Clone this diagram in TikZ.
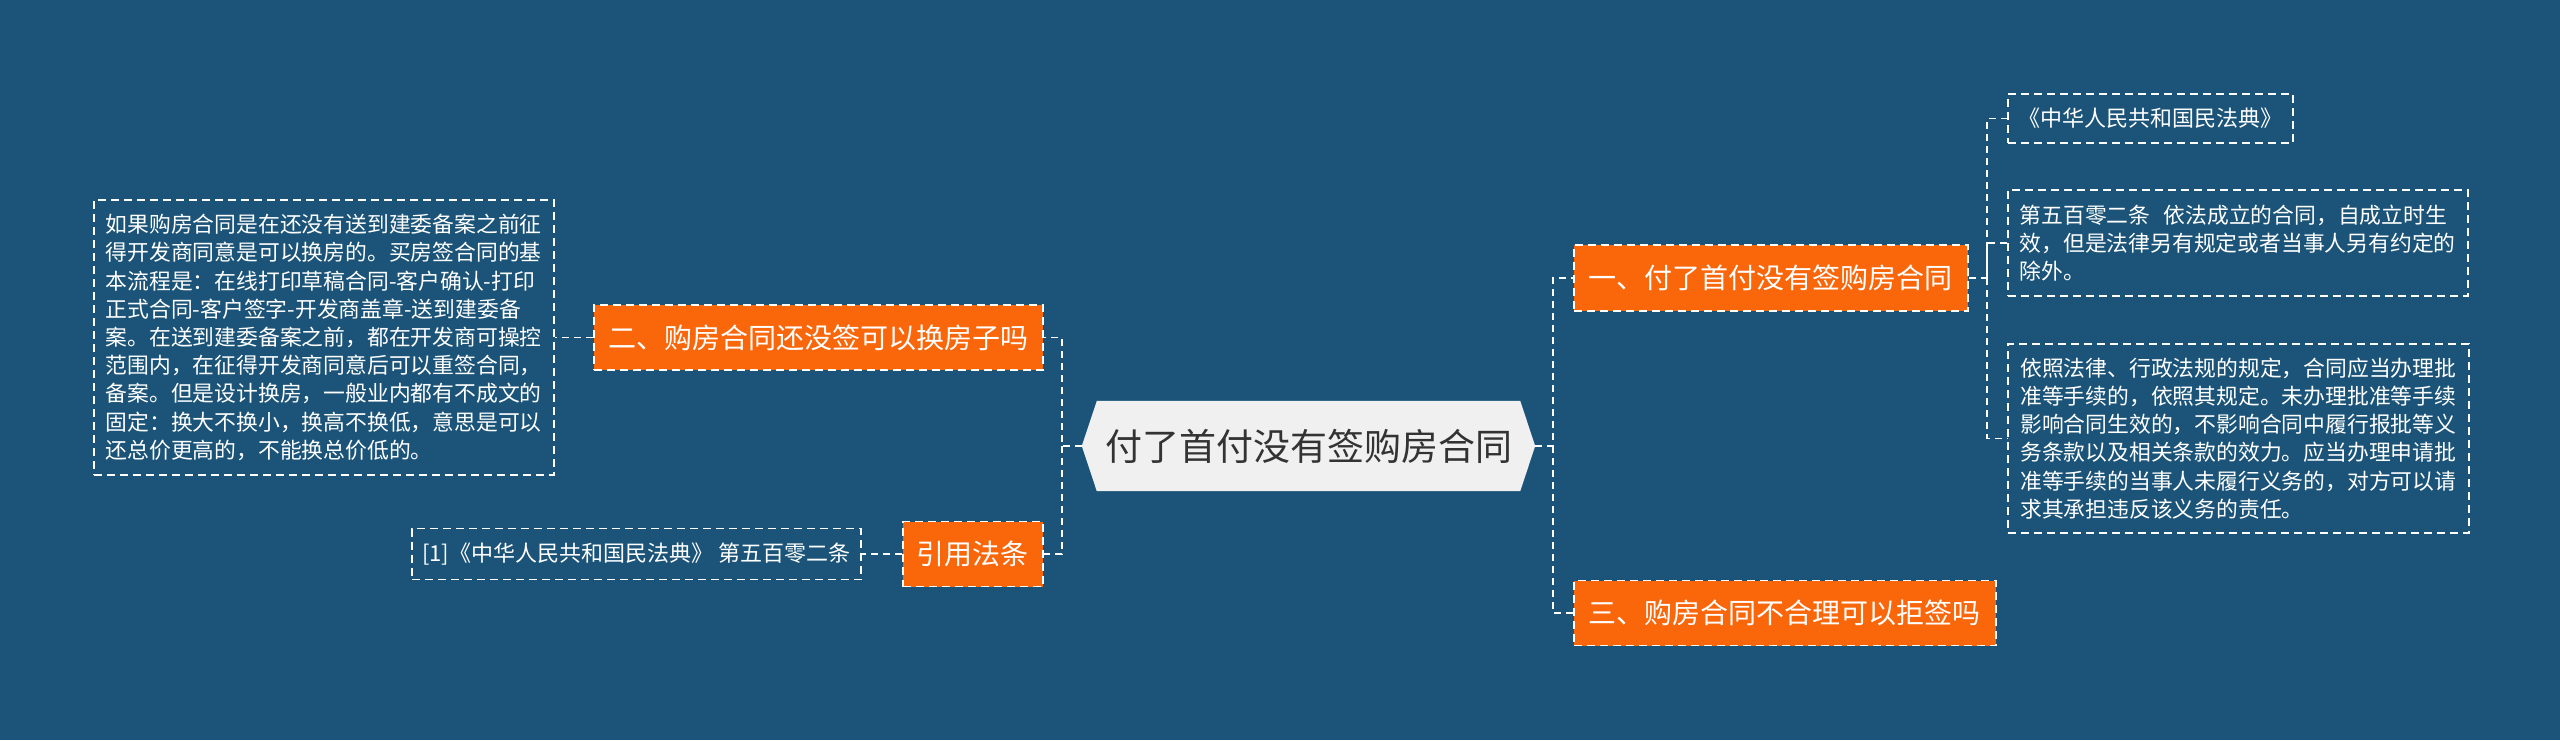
\documentclass[tikz,border=0pt]{standalone}
\usepackage{fontspec}
\setmainfont{Noto Sans CJK SC}
\usepackage{tikz}
\usetikzlibrary{calc}
\definecolor{mapblue}{RGB}{27, 84, 120}
\definecolor{branchorange}{RGB}{250, 102, 10}
\definecolor{rootfill}{RGB}{240, 240, 240}
\definecolor{rootink}{RGB}{51, 51, 51}

\begin{document}
\begin{tikzpicture}[x=1pt, y=-1pt,
  link/.style={draw=white, line width=1.8pt, dash pattern=on 7pt off 5pt},
  branch/.style={draw=white, line width=1.5pt, dash pattern=on 8pt off 5pt, fill=branchorange,
    text=white, anchor=west, inner sep=0pt, font=\fontsize{28}{34}\selectfont},
  leaf/.style={draw=white, line width=1.5pt, dash pattern=on 8pt off 5pt, text=white,
    anchor=west, inner sep=0pt, align=left, font=\fontsize{21.8}{28.2}\selectfont},
  rootbox/.style={minimum width=453pt, minimum height=90pt, inner sep=0pt}
]
  \fill[mapblue] (0,0) rectangle (2560,740);

  % root
  \node[rootbox] (root) at (1308.5,446) {};
  \fill[rootfill] (root.west) -- ([xshift=15pt]root.north west) -- ([xshift=-15pt]root.north east)
    -- (root.east) -- ([xshift=-15pt]root.south east) -- ([xshift=15pt]root.south west) -- cycle;
  \node[text=rootink, font=\fontsize{37}{44}\selectfont] (roottitle) at (root.center) {付了首付没有签购房合同};

  % left side
  \node[branch, minimum width=449pt, minimum height=65pt] (q2) at (593,337.5) {二、购房合同还没签可以换房子吗};
  \node[branch, minimum width=140pt, minimum height=65pt] (cite) at (902,554) {引用法条};
  \node[leaf, minimum width=460pt, minimum height=275pt] (detail) at (93,337.5) {
    如果购房合同是在还没有送到建委备案之前征\\
    得开发商同意是可以换房的。买房签合同的基\\
    本流程是：在线打印草稿合同-客户确认-打印\\
    正式合同-客户签字-开发商盖章-送到建委备\\
    案。在送到建委备案之前，都在开发商可操控\\
    范围内，在征得开发商同意后可以重签合同，\\
    备案。但是设计换房，一般业内都有不成文的\\
    固定：换大不换小，换高不换低，意思是可以\\
    还总价更高的，不能换总价低的。};
  \node[leaf, minimum width=449pt, minimum height=51pt, font=\fontsize{22}{28}\selectfont] (ref) at (411,554)
    {[1]《中华人民共和国民法典》 第五百零二条};

  % right side
  \node[branch, minimum width=394pt, minimum height=66pt] (q1) at (1573,278) {一、付了首付没有签购房合同};
  \node[branch, minimum width=422pt, minimum height=65pt] (q3) at (1573,613) {三、购房合同不合理可以拒签吗};
  \node[leaf, minimum width=285pt, minimum height=49pt, font=\fontsize{22}{28}\selectfont] (law1) at (2007,118.5)
    {《中华人民共和国民法典》};
  \node[leaf, minimum width=460pt, minimum height=106pt] (law2) at (2007,243) {
    第五百零二条\hspace{0.6em}依法成立的合同，自成立时生\\
    效，但是法律另有规定或者当事人另有约定的\\
    除外。};
  \node[leaf, minimum width=461pt, minimum height=189pt] (law3) at (2007,438.5) {
    依照法律、行政法规的规定，合同应当办理批\\
    准等手续的，依照其规定。未办理批准等手续\\
    影响合同生效的，不影响合同中履行报批等义\\
    务条款以及相关条款的效力。应当办理申请批\\
    准等手续的当事人未履行义务的，对方可以请\\
    求其承担违反该义务的责任。};

  \coordinate (lj) at (1062,446);
  \coordinate (rj) at (1553,446);
  \coordinate (q1j) at (1987,278);

  \draw[link] (root.west) -- (lj) |- (q2.east);
  \draw[link] (lj) |- (cite.east);
  \draw[link] (root.east) -- (rj) |- (q1.west);
  \draw[link] (rj) |- (q3.west);
  \draw[link] (q2.west) -- (detail.east);
  \draw[link] (cite.west) -- (ref.east);
  \draw[link] (q1.east) -- (q1j) |- (law1.west);
  \draw[link] (q1j) |- (law2.west);
  \draw[link] (q1j) |- (law3.west);
\end{tikzpicture}
\end{document}
